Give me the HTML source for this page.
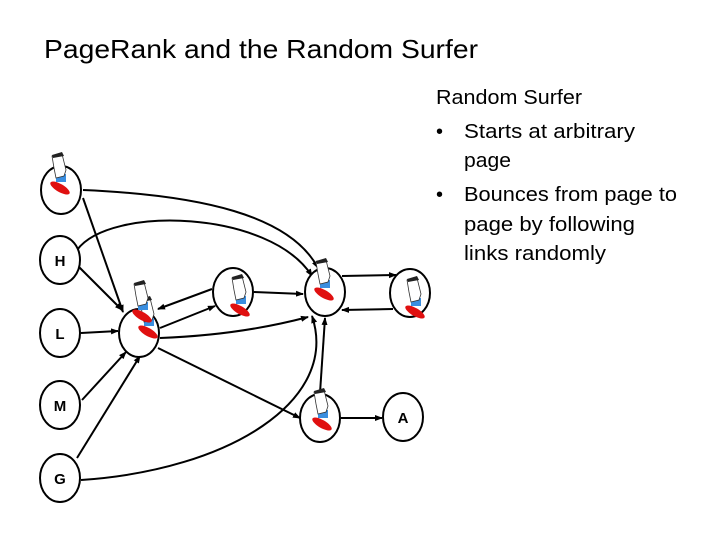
<!DOCTYPE html>
<html><head><style>
body{margin:0;width:720px;height:540px;background:#fff;overflow:hidden;font-family:"Liberation Sans",sans-serif;}
</style></head><body>
<svg width="720" height="540" viewBox="0 0 720 540" xmlns="http://www.w3.org/2000/svg">
<defs>
<marker id="a" markerWidth="8" markerHeight="8" refX="7" refY="4" orient="auto" markerUnits="userSpaceOnUse"><path d="M0,1 L8,4 L0,7 z" fill="#000"/></marker>
<g id="s">
<ellipse cx="2" cy="10" rx="11" ry="4" transform="rotate(30 2 10)" fill="#e01010"/>
<path d="M-2,-4 L8,-4 L8,4 L-2,4 z" fill="#3a8ee0"/>
<path d="M-6,-22 L4,-24 L8,-8 L6,-2 L-2,0 L-4,-10 z" fill="#fff" stroke="#333" stroke-width="0.8"/>
<path d="M-6,-23 L4,-26 L6,-22 L-5,-20 z" fill="#222"/>
</g>
</defs>
<text x="44" y="58" font-size="26" fill="#000" textLength="434" lengthAdjust="spacingAndGlyphs">PageRank and the Random Surfer</text>
<g font-size="20" fill="#000">
<text x="436" y="104" textLength="146" lengthAdjust="spacingAndGlyphs">Random Surfer</text>
<text x="436" y="138">•</text><text x="464" y="138" textLength="171" lengthAdjust="spacingAndGlyphs">Starts at arbitrary</text>
<text x="464" y="167" textLength="47" lengthAdjust="spacingAndGlyphs">page</text>
<text x="436" y="201">•</text><text x="464" y="201" textLength="213" lengthAdjust="spacingAndGlyphs">Bounces from page to</text>
<text x="464" y="231" textLength="171" lengthAdjust="spacingAndGlyphs">page by following</text>
<text x="464" y="260" textLength="142" lengthAdjust="spacingAndGlyphs">links randomly</text>
</g>
<g fill="none" stroke="#000" stroke-width="2">
<path d="M83,190 C200,195 290,215 318,268" marker-end="url(#a)"/>
<path d="M77,250 C110,205 270,210 312,276" marker-end="url(#a)"/>
<path d="M83,198 L123,312" marker-end="url(#a)"/>
<path d="M78,266 L122,310" marker-end="url(#a)"/>
<path d="M81,333 L118,331" marker-end="url(#a)"/>
<path d="M82,400 L126,352" marker-end="url(#a)"/>
<path d="M77,458 L140,356" marker-end="url(#a)"/>
<path d="M81,480 C230,470 340,400 312,316" marker-end="url(#a)"/>
<path d="M160,328 L215,306" marker-end="url(#a)"/>
<path d="M212,289 L158,309" marker-end="url(#a)"/>
<path d="M254,292 L303,294" marker-end="url(#a)"/>
<path d="M160,338 Q240,335 308,317" marker-end="url(#a)"/>
<path d="M342,276 L396,275" marker-end="url(#a)"/>
<path d="M393,309 L342,310" marker-end="url(#a)"/>
<path d="M158,348 L300,418" marker-end="url(#a)"/>
<path d="M320,393 L325,318" marker-end="url(#a)"/>
<path d="M341,418 L382,418" marker-end="url(#a)"/>
</g>
<g fill="#fff" stroke="#000" stroke-width="2">
<ellipse cx="61" cy="190" rx="20" ry="24"/>
<ellipse cx="60" cy="260" rx="20" ry="24"/>
<ellipse cx="60" cy="333" rx="20" ry="24"/>
<ellipse cx="60" cy="405" rx="20" ry="24"/>
<ellipse cx="60" cy="478" rx="20" ry="24"/>
<ellipse cx="139" cy="333" rx="20" ry="24"/>
<ellipse cx="233" cy="292" rx="20" ry="24"/>
<ellipse cx="325" cy="292" rx="20" ry="24"/>
<ellipse cx="410" cy="293" rx="20" ry="24"/>
<ellipse cx="320" cy="418" rx="20" ry="24"/>
<ellipse cx="403" cy="417" rx="20" ry="24"/>
</g>
<g font-size="15" font-weight="bold" text-anchor="middle" fill="#000">
<text x="60" y="266">H</text><text x="60" y="339">L</text><text x="60" y="411">M</text><text x="60" y="484">G</text><text x="403" y="423">A</text>
</g>
<use href="#s" x="58" y="178"/>
<use href="#s" x="146" y="322"/>
<use href="#s" x="140" y="306"/>
<use href="#s" x="238" y="300"/>
<use href="#s" x="322" y="284"/>
<use href="#s" x="413" y="302"/>
<use href="#s" x="320" y="414"/>
</svg>
</body></html>
